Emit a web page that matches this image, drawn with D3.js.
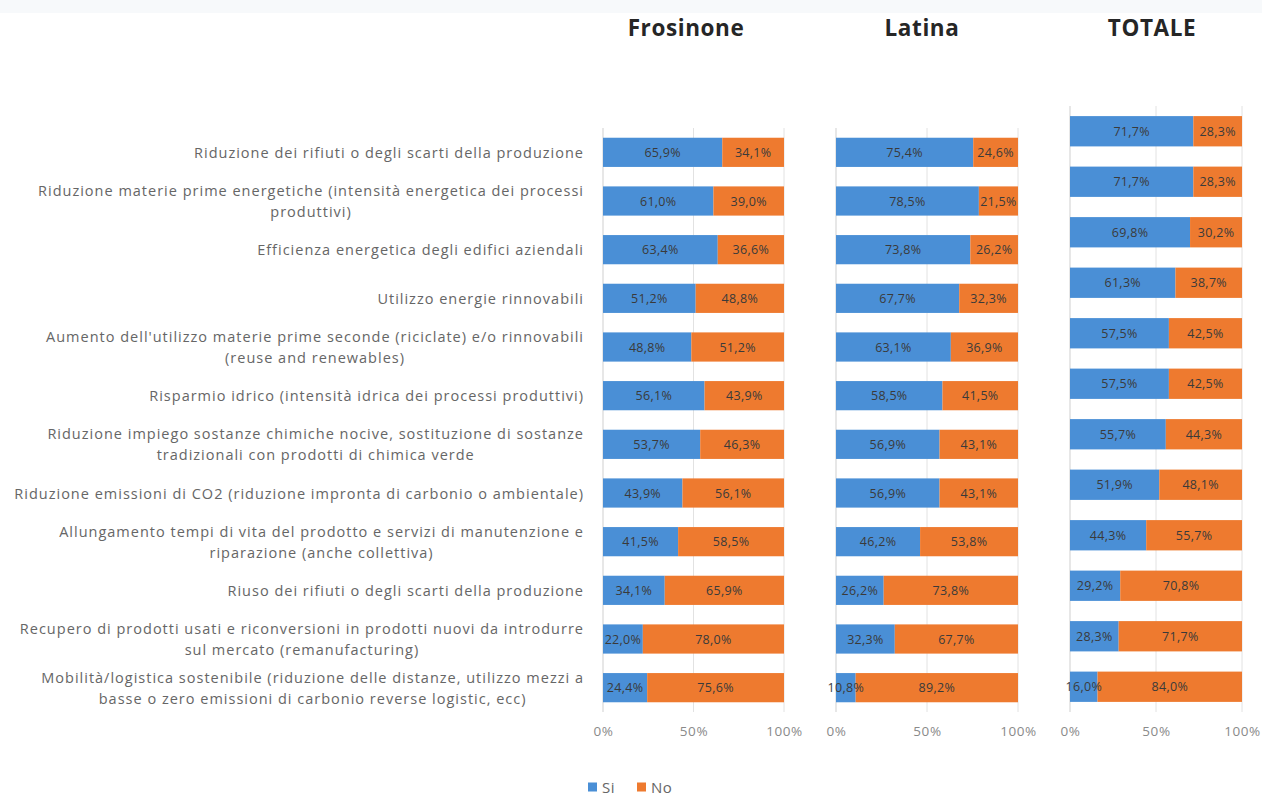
<!DOCTYPE html>
<html>
<head>
<meta charset="utf-8">
<script src="https://cdn.jsdelivr.net/npm/d3@7"></script>
<style>
  html, body { margin: 0; padding: 0; background: #fff; }
  svg { display: block; }
</style>
</head>
<body>
<svg id="chart" width="1262" height="799"></svg>
<script>
// Actions for the circular economy, share of firms answering Sì / No
const categories = [
  ["Riduzione dei rifiuti o degli scarti della produzione"],
  ["Riduzione materie prime energetiche (intensità energetica dei processi", "produttivi)"],
  ["Efficienza energetica degli edifici aziendali"],
  ["Utilizzo energie rinnovabili"],
  ["Aumento dell'utilizzo materie prime seconde (riciclate) e/o rinnovabili", "(reuse and renewables)"],
  ["Risparmio idrico (intensità idrica dei processi produttivi)"],
  ["Riduzione impiego sostanze chimiche nocive, sostituzione di sostanze", "tradizionali con prodotti di chimica verde"],
  ["Riduzione emissioni di CO2 (riduzione impronta di carbonio o ambientale)"],
  ["Allungamento tempi di vita del prodotto e servizi di manutenzione e", "riparazione (anche collettiva)"],
  ["Riuso dei rifiuti o degli scarti della produzione"],
  ["Recupero di prodotti usati e riconversioni in prodotti nuovi da introdurre", "sul mercato (remanufacturing)"],
  ["Mobilità/logistica sostenibile (riduzione delle distanze, utilizzo mezzi a", "basse o zero emissioni di carbonio reverse logistic, ecc)"]
];

const panelTitles = ["Frosinone", "Latina", "TOTALE"];
const seriesNames = ["Si", "No"];

const frosinoneSi = [65.9, 61.0, 63.4, 51.2, 48.8, 56.1, 53.7, 43.9, 41.5, 34.1, 22.0, 24.4];
const frosinoneNo = [34.1, 39.0, 36.6, 48.8, 51.2, 43.9, 46.3, 56.1, 58.5, 65.9, 78.0, 75.6];
const latinaSi    = [75.4, 78.5, 73.8, 67.7, 63.1, 58.5, 56.9, 56.9, 46.2, 26.2, 32.3, 10.8];
const latinaNo    = [24.6, 21.5, 26.2, 32.3, 36.9, 41.5, 43.1, 43.1, 53.8, 73.8, 67.7, 89.2];
const totaleSi    = [71.7, 71.7, 69.8, 61.3, 57.5, 57.5, 55.7, 51.9, 44.3, 29.2, 28.3, 16.0];
const totaleNo    = [28.3, 28.3, 30.2, 38.7, 42.5, 42.5, 44.3, 48.1, 55.7, 70.8, 71.7, 84.0];

const tickValues = [0, 50, 100];
const tickLabels = ["0%", "50%", "100%"];

const colors = { Si: "#4a8fd6", No: "#ee7a2f" };
const fontBody = "'Open Sans', 'Liberation Sans', sans-serif";

const svg = d3.select("#chart");

// faint strip along the top edge
svg.append("rect").attr("x", 0).attr("y", 0).attr("width", 1262).attr("height", 13)
  .attr("fill", "#f7f9fb");

const panels = [
  { title: panelTitles[0], si: frosinoneSi, no: frosinoneNo, x0: 603, x1: 784, y0: 128, y1: 712, titleX: 686 },
  { title: panelTitles[1], si: latinaSi,    no: latinaNo,    x0: 836, x1: 1018, y0: 128, y1: 712, titleX: 922 },
  { title: panelTitles[2], si: totaleSi,    no: totaleNo,    x0: 1070, x1: 1242, y0: 106, y1: 712, titleX: 1152 }
];

const idx = d3.range(categories.length);
const fmt = v => v.toFixed(1).replace(".", ",") + "%";

panels.forEach(p => {
  const x = d3.scaleLinear().domain([0, 100]).range([p.x0, p.x1]);
  const y = d3.scaleBand().domain(idx).range([p.y0, p.y1]).paddingInner(0.4).paddingOuter(0.2);
  const g = svg.append("g");

  // vertical gridlines
  g.selectAll("line.grid").data(tickValues).join("line")
    .attr("x1", d => x(d)).attr("x2", d => x(d))
    .attr("y1", p.y0).attr("y2", p.y1)
    .attr("stroke", d => d === 0 ? "#cfcfcf" : "#e2e2e2").attr("stroke-width", 1);

  // stacked bars
  const rows = idx.map(i => ({ i, si: p.si[i], no: p.no[i] }));
  g.selectAll("rect.si").data(rows).join("rect")
    .attr("x", x(0)).attr("y", d => y(d.i))
    .attr("width", d => x(d.si) - x(0)).attr("height", y.bandwidth())
    .attr("fill", colors.Si);
  g.selectAll("rect.no").data(rows).join("rect")
    .attr("x", d => x(d.si)).attr("y", d => y(d.i))
    .attr("width", d => x(d.si + d.no) - x(d.si)).attr("height", y.bandwidth())
    .attr("fill", colors.No);

  // value labels centred in each segment
  const labelStyle = sel => sel
    .attr("text-anchor", "middle").attr("dominant-baseline", "central")
    .attr("font-family", fontBody).attr("font-size", 12.5).attr("letter-spacing", 0.3)
    .attr("fill", "#3a3a3a");
  g.selectAll("text.si").data(rows).join("text")
    .attr("x", d => x(d.si / 2)).attr("y", d => y(d.i) + y.bandwidth() / 2)
    .text(d => fmt(d.si)).call(labelStyle);
  g.selectAll("text.no").data(rows).join("text")
    .attr("x", d => x(d.si + d.no / 2)).attr("y", d => y(d.i) + y.bandwidth() / 2)
    .text(d => fmt(d.no)).call(labelStyle);

  // percent axis
  const axis = d3.axisBottom(x).tickValues(tickValues)
    .tickFormat((d, k) => tickLabels[k]).tickSize(0).tickPadding(0);
  const ag = g.append("g").attr("transform", `translate(0,${731})`).call(axis);
  ag.select(".domain").remove();
  ag.selectAll("text").attr("font-family", fontBody).attr("font-size", 13.5)
    .attr("letter-spacing", 0.6).attr("fill", "#8a8a8a").attr("dy", "0.35em");

  // panel title
  svg.append("text").attr("x", p.titleX).attr("y", 36)
    .attr("text-anchor", "middle").attr("font-family", fontBody)
    .attr("font-weight", "bold").attr("font-size", 22.5).attr("letter-spacing", 0.6)
    .attr("fill", "#262626")
    .text(p.title);
});

// category labels, aligned to the first panel's rows
const yCat = d3.scaleBand().domain(idx).range([128, 712]).paddingInner(0.4).paddingOuter(0.2);
const labelRight = 584, lineH = 21;
idx.forEach(i => {
  const lines = categories[i];
  const cy = yCat(i) + yCat.bandwidth() / 2;
  const txt = svg.append("g");
  const nodes = lines.map((l, k) => txt.append("text")
    .attr("y", cy + (k - (lines.length - 1) / 2) * lineH)
    .attr("dominant-baseline", "central").attr("text-anchor", "middle")
    .attr("font-family", fontBody).attr("font-size", 14.5).attr("letter-spacing", 1.0)
    .attr("fill", "#666")
    .text(l));
  const maxW = d3.max(nodes, n => n.node().getComputedTextLength());
  nodes.forEach(n => n.attr("x", labelRight - maxW / 2));
});

// legend
const legend = svg.append("g").attr("transform", "translate(588,787)");
const items = [{ name: seriesNames[0], x: 0 }, { name: seriesNames[1], x: 49 }];
items.forEach(it => {
  legend.append("rect").attr("x", it.x).attr("y", -4.5).attr("width", 9).attr("height", 9)
    .attr("fill", colors[it.name]);
  legend.append("text").attr("x", it.x + 14).attr("y", 0).attr("dominant-baseline", "central")
    .attr("font-family", fontBody).attr("font-size", 15).attr("letter-spacing", 0.5)
    .attr("fill", "#666").text(it.name);
});
</script>
</body>
</html>
